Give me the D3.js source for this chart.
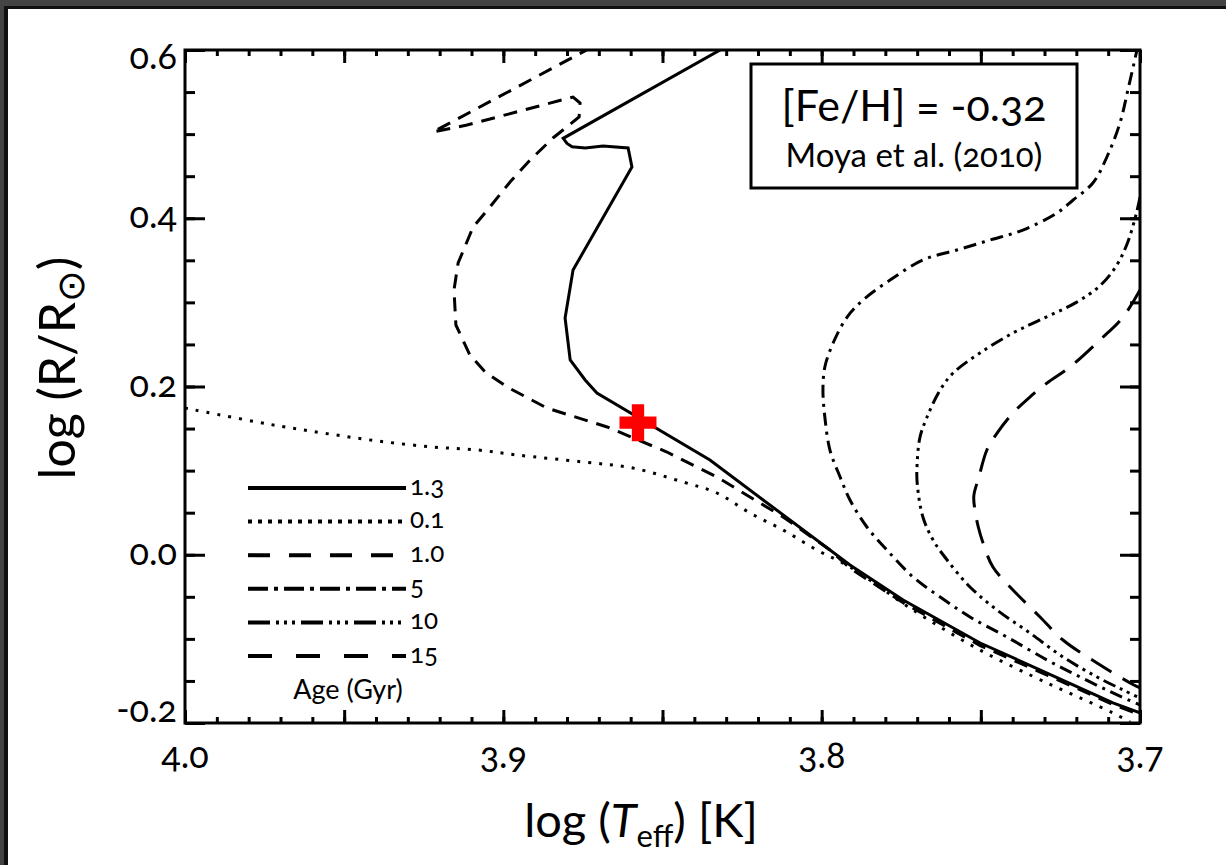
<!DOCTYPE html>
<html>
<head>
<meta charset="utf-8">
<script src="https://cdn.jsdelivr.net/npm/d3@7"></script>
<style>
  body { margin: 0; background: #fff; }
  svg { display: block; font-family: Lato, 'Open Sans', sans-serif; font-variant-numeric: oldstyle-nums; }
</style>
</head>
<body>
<div id="chart"></div>
<script>
// isochrones: [log Teff, log R/Rsun]
const ISO_1_3 = [
  [3.8291, 0.606], [3.8812, 0.495], [3.8800, 0.489], [3.8784, 0.485], [3.8743, 0.4835],
  [3.8687, 0.486], [3.8608, 0.4835], [3.8596, 0.461], [3.8781, 0.3385], [3.8806, 0.2814],
  [3.8790, 0.2315], [3.8743, 0.2077], [3.8706, 0.1923], [3.8351, 0.1126], [3.7911, -0.0122],
  [3.7744, -0.0538], [3.7502, -0.1049], [3.7292, -0.1406], [3.7085, -0.1762], [3.7000, -0.188]
];
const ISO_0_1 = [
  [4.0000, 0.1744], [3.9739, 0.1554], [3.9566, 0.1447], [3.9394, 0.1352], [3.9221, 0.1281],
  [3.9080, 0.1245], [3.8957, 0.1186], [3.8750, 0.1103], [3.8593, 0.1031], [3.8436, 0.0865],
  [3.8329, 0.0734], [3.8225, 0.0496], [3.8121, 0.0294], [3.8015, 0.0056], [3.7911, -0.0146],
  [3.7713, -0.0657], [3.7503, -0.1132], [3.7292, -0.1524], [3.7173, -0.1727], [3.7085, -0.1881],
  [3.7031, -0.1988]
];
const ISO_1_0 = [
  [3.8721, 0.6036], [3.9221, 0.5025], [3.9114, 0.5108], [3.8781, 0.5441], [3.8759, 0.537],
  [3.8762, 0.5204], [3.8844, 0.4954], [3.8916, 0.4692], [3.8979, 0.4431], [3.9042, 0.4134],
  [3.9095, 0.3896], [3.9142, 0.3468], [3.9155, 0.3147], [3.9149, 0.2731], [3.9105, 0.2374],
  [3.9057, 0.2172], [3.8988, 0.1994], [3.8863, 0.1744], [3.8674, 0.1519], [3.8486, 0.1221],
  [3.8329, 0.0924], [3.8121, 0.0449], [3.7974, 0.0056], [3.7911, -0.016], [3.7744, -0.057],
  [3.7502, -0.108], [3.7292, -0.143], [3.7085, -0.178], [3.7000, -0.190]
];
const ISO_5 = [
  [3.7006, 0.606], [3.7038, 0.5525], [3.7063, 0.5132], [3.7104, 0.4728], [3.7148, 0.4419],
  [3.7210, 0.4217], [3.7261, 0.4062], [3.7368, 0.3860], [3.7471, 0.3741], [3.7575, 0.3623],
  [3.7682, 0.3504], [3.7785, 0.3266], [3.7870, 0.3028], [3.7920, 0.2826], [3.7964, 0.2517],
  [3.7990, 0.2232], [3.7996, 0.1958], [3.7990, 0.1637], [3.7974, 0.1245], [3.7942, 0.0924],
  [3.7911, 0.0651], [3.7858, 0.0330], [3.7795, 0.0056], [3.7713, -0.0264], [3.7628, -0.0502],
  [3.7534, -0.0740], [3.7418, -0.0978], [3.7292, -0.1251], [3.7188, -0.1453], [3.7085, -0.1643],
  [3.7000, -0.1786]
];
const ISO_10 = [
  [3.7000, 0.425], [3.7012, 0.405], [3.7040, 0.370], [3.7075, 0.343], [3.7125, 0.320],
  [3.7200, 0.300], [3.7314, 0.2791], [3.7399, 0.2636], [3.7503, 0.2398], [3.7587, 0.2160],
  [3.7628, 0.1958], [3.7669, 0.1637], [3.7691, 0.1400], [3.7700, 0.1091], [3.7700, 0.0853],
  [3.7682, 0.0449], [3.7650, 0.0175], [3.7606, -0.0062], [3.7534, -0.0383], [3.7449, -0.0657],
  [3.7346, -0.0930], [3.7242, -0.1215], [3.7135, -0.1453], [3.7053, -0.1608], [3.7000, -0.1703]
];
const ISO_15 = [
  [3.7000, 0.3147], [3.7053, 0.2826], [3.7126, 0.2553], [3.7220, 0.2232], [3.7292, 0.2042],
  [3.7346, 0.1875], [3.7399, 0.1685], [3.7449, 0.1447], [3.7481, 0.1245], [3.7506, 0.0924],
  [3.7522, 0.0700], [3.7518, 0.0520], [3.7508, 0.0330], [3.7493, 0.0140], [3.7462, -0.0146],
  [3.7399, -0.0419], [3.7314, -0.0740], [3.7242, -0.1013], [3.7135, -0.1287], [3.7031, -0.1524],
  [3.7000, -0.1584]
];
const STAR = [3.8577, 0.157];

const AGE_LABELS = ['1.3', '0.1', '1.0', '5', '10', '15'];
const X_TICK_LABELS = [4.0, 3.9, 3.8, 3.7];
const Y_TICK_LABELS = [0.6, 0.4, 0.2, 0.0, -0.2];

const W = 1226, H = 865;
const PLOT = { left: 185, right: 1140, top: 50, bottom: 723 };

const svg = d3.select('#chart').append('svg')
  .attr('width', W)
  .attr('height', H);

// screenshot frame
svg.append('rect').attr('x', 0).attr('y', 0).attr('width', W).attr('height', 6).attr('fill', '#444');
svg.append('rect').attr('x', 0).attr('y', 6).attr('width', W).attr('height', 3).attr('fill', '#111');
svg.append('rect').attr('x', 0).attr('y', 0).attr('width', 4).attr('height', H).attr('fill', '#444');
svg.append('rect').attr('x', 4).attr('y', 6).attr('width', 4).attr('height', H).attr('fill', '#111');

const x = d3.scaleLinear().domain([4.0, 3.7]).range([PLOT.left, PLOT.right]);
const y = d3.scaleLinear().domain([-0.2, 0.6]).range([PLOT.bottom, PLOT.top]);

svg.append('clipPath').attr('id', 'clip')
  .append('rect')
    .attr('x', PLOT.left).attr('y', PLOT.top)
    .attr('width', PLOT.right - PLOT.left).attr('height', PLOT.bottom - PLOT.top);

const linear = d3.line().x(d => x(d[0])).y(d => y(d[1]));
const smooth = d3.line().x(d => x(d[0])).y(d => y(d[1])).curve(d3.curveCatmullRom.alpha(0.5));

const series = [
  { data: ISO_1_3, dash: null, legendDash: null, line: linear },
  { data: ISO_0_1, dash: '3,8', legendDash: '4,6', line: smooth },
  { data: ISO_1_0, dash: '14,9', legendDash: '22,19', line: linear },
  { data: ISO_5, dash: '13,6,3,6', legendDash: '20,6,4,6', line: smooth },
  { data: ISO_10, dash: '13,5,3,5,3,5,3,5', legendDash: '22,6,3,5,3,5,3,6', line: smooth },
  { data: ISO_15, dash: '24,13', legendDash: '24,24', line: smooth }
];

const curves = svg.append('g').attr('clip-path', 'url(#clip)');
series.forEach(s => {
  curves.append('path')
    .attr('d', s.line(s.data))
    .attr('fill', 'none')
    .attr('stroke', '#000')
    .attr('stroke-width', 3)
    .attr('stroke-dasharray', s.dash);
});

// star position
svg.append('path')
  .attr('d', d3.symbol(d3.symbolCross, 760)())
  .attr('transform', `translate(${x(STAR[0])}, ${y(STAR[1])})`)
  .attr('fill', '#ff0000');

// ticks on all four sides, pointing inward
const xMinor = d3.range(0, 31).map(i => 3.7 + i * 0.01);
const xMajor = d3.range(0, 7).map(i => 3.7 + i * 0.05);
const yMinor = d3.range(0, 17).map(i => -0.2 + i * 0.05);
const yMajor = Y_TICK_LABELS;

function tickGroup(axis, tx, ty) {
  const g = svg.append('g')
    .attr('transform', `translate(${tx}, ${ty})`)
    .call(axis);
  g.select('.domain').remove();
  g.selectAll('.tick line').attr('stroke', '#000').attr('stroke-width', 3);
  g.selectAll('.tick text').remove();
}

tickGroup(d3.axisBottom(x).tickValues(xMinor).tickSize(-6), 0, PLOT.bottom);
tickGroup(d3.axisBottom(x).tickValues(xMajor).tickSize(-13), 0, PLOT.bottom);
tickGroup(d3.axisTop(x).tickValues(xMinor).tickSize(-6), 0, PLOT.top);
tickGroup(d3.axisTop(x).tickValues(xMajor).tickSize(-13), 0, PLOT.top);
tickGroup(d3.axisLeft(y).tickValues(yMinor).tickSize(-10), PLOT.left, 0);
tickGroup(d3.axisLeft(y).tickValues(yMajor).tickSize(-20), PLOT.left, 0);
tickGroup(d3.axisRight(y).tickValues(yMinor).tickSize(-10), PLOT.right, 0);
tickGroup(d3.axisRight(y).tickValues(yMajor).tickSize(-20), PLOT.right, 0);

svg.append('rect')
  .attr('x', PLOT.left).attr('y', PLOT.top)
  .attr('width', PLOT.right - PLOT.left).attr('height', PLOT.bottom - PLOT.top)
  .attr('fill', 'none')
  .attr('stroke', '#000')
  .attr('stroke-width', 3);

// tick labels
svg.selectAll('.xlab')
  .data(X_TICK_LABELS)
  .enter().append('text')
    .attr('x', d => x(d))
    .attr('y', 768)
    .attr('text-anchor', 'middle')
    .attr('font-size', 36)
    .text(d => d.toFixed(1));

svg.selectAll('.ylab')
  .data(Y_TICK_LABELS)
  .enter().append('text')
    .attr('x', 177)
    .attr('y', d => Math.min(Math.max(y(d) + 10, 69), 722))
    .attr('text-anchor', 'end')
    .attr('font-size', 36)
    .text(d => d.toFixed(1));

// axis titles
const xt = svg.append('text')
  .attr('x', 641)
  .attr('y', 837)
  .attr('text-anchor', 'middle')
  .attr('font-size', 47);
xt.append('tspan').text('log (');
xt.append('tspan').attr('font-style', 'italic').text('T');
xt.append('tspan').attr('font-size', 31).attr('dy', 10).text('eff');
xt.append('tspan').attr('dy', -10).text(') [K]');

const yt = svg.append('text')
  .attr('transform', 'translate(75, 368) rotate(-90)')
  .attr('text-anchor', 'middle')
  .attr('font-size', 50);
yt.append('tspan').text('log (R/R');
yt.append('tspan').attr('font-size', 38).attr('dy', 9).text('⊙');
yt.append('tspan').attr('dy', -9).text(')');

// metallicity box
svg.append('rect')
  .attr('x', 751).attr('y', 64)
  .attr('width', 326).attr('height', 124)
  .attr('fill', '#fff')
  .attr('stroke', '#000')
  .attr('stroke-width', 3);
svg.append('text')
  .attr('x', 914).attr('y', 121)
  .attr('text-anchor', 'middle')
  .attr('font-size', 43)
  .text('[Fe/H] = -0.32');
svg.append('text')
  .attr('x', 914).attr('y', 167)
  .attr('text-anchor', 'middle')
  .attr('font-size', 33)
  .text('Moya et al. (2010)');

// legend
const legend = svg.append('g');
AGE_LABELS.forEach((label, i) => {
  const ly = 488 + i * 33.6;
  legend.append('line')
    .attr('x1', 248).attr('x2', 406)
    .attr('y1', ly).attr('y2', ly)
    .attr('stroke', '#000')
    .attr('stroke-width', 4)
    .attr('stroke-dasharray', series[i].legendDash);
  legend.append('text')
    .attr('x', 410).attr('y', ly)
    .attr('dominant-baseline', 'middle')
    .attr('font-size', 26)
    .text(label);
});
legend.append('text')
  .attr('x', 348).attr('y', 699)
  .attr('text-anchor', 'middle')
  .attr('font-size', 27)
  .text('Age (Gyr)');
</script>
</body>
</html>
